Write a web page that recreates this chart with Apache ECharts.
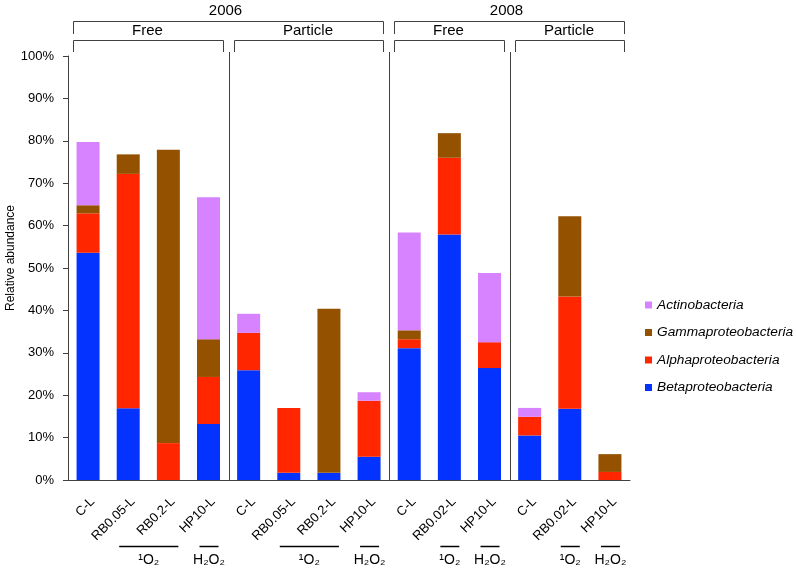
<!DOCTYPE html>
<html>
<head>
<meta charset="utf-8">
<script src="https://cdn.jsdelivr.net/npm/echarts@6/dist/echarts.min.js"></script>
<style>
html,body{margin:0;padding:0;background:#fff;}
#c{width:796px;height:571px;}
</style>
</head>
<body>
<div id="c"></div>
<script>
// ---- data ----
var categories = ['C-L','RB0.05-L','RB0.2-L','HP10-L','C-L','RB0.05-L','RB0.2-L','HP10-L','C-L','RB0.02-L','HP10-L','C-L','RB0.02-L','HP10-L'];
var betaproteobacteria  = [53.6, 16.9, 0,    13.2, 25.9, 1.7, 1.7, 5.5, 31.1, 57.9, 26.4, 10.5, 16.8, 0];
var alphaproteobacteria = [9.3,  55.3, 8.7,  11.1, 8.8, 15.3, 0,  13.2, 2.1,  18.1, 6.1,  4.4,  26.5, 1.9];
var gammaproteobacteria = [1.9,  4.6,  69.2, 8.9,  0,   0,  38.7, 0,   2.1,  5.8,  0,    0,    18.9, 4.2];
var actinobacteria      = [14.9, 0,    0,    33.5, 4.5, 0,   0,   2.0, 23.1, 0,    16.3, 2.1,  0,    0];
var yTicks = [0,10,20,30,40,50,60,70,80,90,100];
var legendNames = ['Actinobacteria','Gammaproteobacteria','Alphaproteobacteria','Betaproteobacteria'];
// annotation structure (category index ranges)
var years = [{label:'2006', from:0, to:7}, {label:'2008', from:8, to:13}];
var fractions = [{label:'Free', from:0, to:3}, {label:'Particle', from:4, to:7}, {label:'Free', from:8, to:10}, {label:'Particle', from:11, to:13}];
var treatments = [{label:'¹O₂', from:1, to:2}, {label:'H₂O₂', from:3, to:3}, {label:'¹O₂', from:5, to:6}, {label:'H₂O₂', from:7, to:7},
                  {label:'¹O₂', from:9, to:9}, {label:'H₂O₂', from:10, to:10}, {label:'¹O₂', from:12, to:12}, {label:'H₂O₂', from:13, to:13}];

var FONT = 'Liberation Sans, Arial, Helvetica, sans-serif';
var colors = {Betaproteobacteria:'#0433FF', Alphaproteobacteria:'#FF2600', Gammaproteobacteria:'#945200', Actinobacteria:'#D783FF'};
var AXC = '#404040';

var chart = echarts.init(document.getElementById('c'));
function mk(name, data){
  return {name:name, type:'bar', stack:'s', data:data, barWidth:23, itemStyle:{color:colors[name]}, animation:false};
}
chart.setOption({
  animation:false,
  textStyle:{fontFamily:FONT},
  grid:{left:68, right:166, top:56, bottom:91, containLabel:false, outerBoundsMode:'none'},
  legend:{
    data:legendNames, orient:'vertical', left:645, top:298, padding:0,
    itemWidth:7, itemHeight:7, itemGap:13.5, icon:'rect',
    textStyle:{fontFamily:FONT, fontSize:13.7, fontStyle:'italic', color:'#000'}
  },
  xAxis:{
    type:'category', data:categories,
    axisLine:{lineStyle:{color:AXC, width:1}},
    axisTick:{show:false},
    axisLabel:{rotate:45, interval:0, margin:15, verticalAlign:'top', color:'#000', fontSize:13, fontFamily:FONT}
  },
  yAxis:{
    type:'value', min:0, max:100, interval:10,
    name:'Relative abundance', nameLocation:'middle', nameGap:51, nameRotate:90, nameMoveOverlap:false,
    nameTextStyle:{color:'#000', fontSize:12, fontFamily:FONT, padding:[0,0,0,20]},
    splitLine:{show:false},
    axisLine:{show:true, lineStyle:{color:AXC, width:1}},
    axisTick:{show:true, length:5, lineStyle:{color:AXC}},
    axisLabel:{formatter:'{value}%', color:'#000', fontSize:13, fontFamily:FONT, margin:14}
  },
  series:[mk('Betaproteobacteria', betaproteobacteria), mk('Alphaproteobacteria', alphaproteobacteria),
          mk('Gammaproteobacteria', gammaproteobacteria), mk('Actinobacteria', actinobacteria)]
});

// ---- annotations positioned from the axis scale ----
function cx(i){ return chart.convertToPixel({xAxisIndex:0}, i); }
var band = cx(1) - cx(0);
function leftEdge(i){ return cx(i) - band/2; }
function rightEdge(i){ return cx(i) + band/2; }
var y0 = chart.convertToPixel({yAxisIndex:0}, 0);
var y100 = chart.convertToPixel({yAxisIndex:0}, 100);
var els = [];
var lineStyle = {stroke:AXC, lineWidth:1, fill:null};
function bracket(x1, x2, yTop, yBot){
  els.push({type:'polyline', shape:{points:[[x1, yBot],[x1, yTop],[x2, yTop],[x2, yBot]]}, style:lineStyle, silent:true});
}
function txt(x, y, s, size){
  els.push({type:'text', x:x, y:y, style:{text:s, fill:'#000', font:size+'px '+FONT, textAlign:'center', textVerticalAlign:'middle'}, silent:true});
}
// separators between fraction groups
fractions.forEach(function(f, k){
  if (k < fractions.length - 1) {
    var x = Math.round(rightEdge(f.to)) + 0.5;
    els.push({type:'line', shape:{x1:x, y1:y0, x2:x, y2:y100 - 4}, style:{stroke:AXC, lineWidth:1}, silent:true});
  }
});
fractions.forEach(function(f){
  var x1 = Math.round(leftEdge(f.from) + 5) + 0.5, x2 = Math.round(rightEdge(f.to) - 6) + 0.5;
  bracket(x1, x2, y100 - 15.5, y100 - 4);
  txt((x1 + x2)/2 - 1, y100 - 25, f.label, 15);
});
years.forEach(function(g){
  var x1 = Math.round(leftEdge(g.from) + 5) + 0.5, x2 = Math.round(rightEdge(g.to) - 6) + 0.5;
  bracket(x1, x2, y100 - 34.5, y100 - 22);
  txt((x1 + x2)/2 - 3, y100 - 45, g.label, 15);
});
treatments.forEach(function(t){
  var x1 = cx(t.from) - 9, x2 = cx(t.to) + 10;
  var yl = y0 + 66.5;
  els.push({type:'line', shape:{x1:x1, y1:yl, x2:x2, y2:yl}, style:{stroke:'#000', lineWidth:1.5}, silent:true});
  txt((x1 + x2)/2, yl + 14, t.label, 14);
});
chart.setOption({graphic:{elements:els}});
</script>
</body>
</html>
